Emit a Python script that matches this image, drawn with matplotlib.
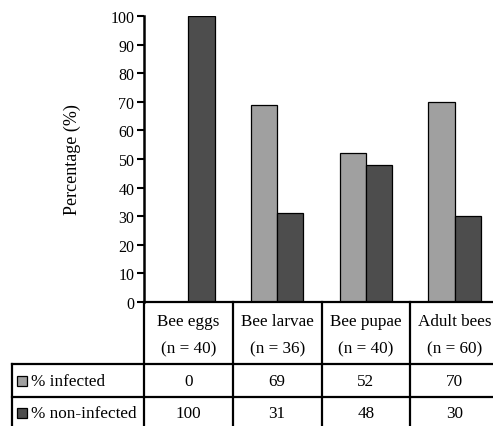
import numpy as np
import matplotlib
matplotlib.use("Agg")
import matplotlib.pyplot as plt
from matplotlib.lines import Line2D
from matplotlib.patches import Rectangle

plt.rcParams['font.family'] = ['Liberation Serif', 'DejaVu Serif']

categories = ["Bee eggs", "Bee larvae", "Bee pupae", "Adult bees"]
sample_sizes = [40, 36, 40, 60]
infected = [0, 69, 52, 70]
non_infected = [100, 31, 48, 30]
series_labels = ["% infected", "% non-infected"]
colors = ["#a0a0a0", "#4d4d4d"]

W, H = 493, 427
fig = plt.figure(figsize=(W / 100, H / 100), dpi=100)


def fx(x):
    return x / W


def fy(y):
    return 1 - y / H


# plot area in pixels
left, right, top, bottom = 144, 499, 17, 303
ax = fig.add_axes([fx(left), fy(bottom), fx(right) - fx(left), fy(top) - fy(bottom)])

x = np.arange(len(categories)) + 0.5
bw = 0.295
ax.bar(x - bw / 2, infected, bw, color=colors[0], edgecolor="black", linewidth=0.9)
ax.bar(x + bw / 2, non_infected, bw, color=colors[1], edgecolor="black", linewidth=0.9)

ax.set_xlim(0, len(categories))
ax.set_ylim(0, 100)
ax.set_yticks(np.arange(0, 101, 10))
ax.set_xticks([])
ax.tick_params(axis="y", direction="out", length=5, width=1.5, labelsize=11.5, pad=2)
for s in ["top", "right", "bottom"]:
    ax.spines[s].set_visible(False)
ax.spines["left"].set_linewidth(1.8)
ax.set_ylabel("Percentage (%)", fontsize=13, labelpad=21)

# table below the plot
def tline(xs, ys, lw=1.6):
    fig.add_artist(Line2D([fx(v) for v in xs], [fy(v) for v in ys],
                          transform=fig.transFigure, color="black", linewidth=lw))

col_w = (right - left) / len(categories)
bounds = [left + i * col_w for i in range(len(categories) + 1)]
row_y = [303, 365, 398, 432]

tline([left, right], [row_y[0], row_y[0]])
tline([12, right], [row_y[1], row_y[1]])
tline([12, right], [row_y[2], row_y[2]])
tline([12, 12], [row_y[1], row_y[3]])
for b in bounds:
    tline([b, b], [row_y[0], row_y[3]])

fs = 12.3
for i, cat in enumerate(categories):
    cx = (bounds[i] + bounds[i + 1]) / 2
    fig.text(fx(cx), fy(322), cat, ha="center", va="center", fontsize=fs)
    fig.text(fx(cx), fy(349), "(n = %d)" % sample_sizes[i], ha="center", va="center", fontsize=fs)
    fig.text(fx(cx), fy(382), str(infected[i]), ha="center", va="center", fontsize=fs)
    fig.text(fx(cx), fy(414), str(non_infected[i]), ha="center", va="center", fontsize=fs)

for j, (lab, c) in enumerate(zip(series_labels, colors)):
    yc = 382 if j == 0 else 414
    fig.add_artist(Rectangle((fx(17), fy(yc + 5)), fx(10), fy(0) - fy(10),
                             transform=fig.transFigure, facecolor=c,
                             edgecolor="black", linewidth=0.9))
    fig.text(fx(31), fy(yc), lab, ha="left", va="center", fontsize=fs)

fig.savefig("out.png", dpi=100)
